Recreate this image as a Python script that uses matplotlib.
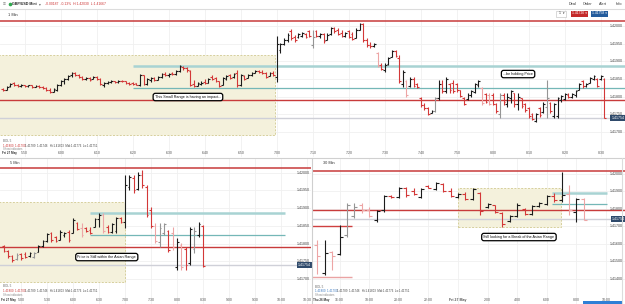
import matplotlib
matplotlib.use('Agg')
import matplotlib.pyplot as plt
import numpy as np
from matplotlib.lines import Line2D
from matplotlib.patches import Rectangle

plt.rcParams['font.family'] = ['Liberation Sans', 'DejaVu Sans']

W, H = 625, 304
BASE = 1.41700          # all prices below are pips above this

# levels drawn on every chart (pips above BASE)
top_red = 31.3
teal_upper = 18.7
teal_lower = 12.5
red_level = 9.0
asian_high = 21.7
asian_low = -0.8
last_price = 4.0
last_label = '1.41754'
teal_from, teal_to = 380, 605          # minutes after Fri 00:00
asian_from, asian_to = 0, 419.5

# ---- 1 Min chart (Fri 27 May, 05:44 .. 08:31)
m1_start = 344
m1_open = [12.3, 12.0, 13.0, 14.0, 13.4, 13.0, 13.2, 12.9, 13.2, 12.8, 13.1, 12.8, 12.5, 11.9, 11.4, 12.0, 13.3, 14.4, 15.0, 16.0,
           16.6, 16.1, 15.6, 15.0, 15.4, 15.0, 15.7, 15.0, 13.2, 13.9, 14.2, 14.4, 14.1, 14.5, 14.3, 13.8, 13.8, 13.8, 13.4, 16.0,
           13.6, 14.8, 15.3, 14.8, 15.6, 16.4, 16.0, 16.7, 16.3, 17.3, 18.5, 18.0, 17.4, 13.5, 13.1, 13.7, 14.2, 13.9, 15.6, 15.2,
           14.3, 13.3, 15.0, 16.0, 15.5, 16.8, 13.2, 15.8, 15.2, 16.0, 16.8, 17.2, 17.1, 16.7, 15.8, 16.8, 15.5, 23.2, 25.0, 26.0,
           28.5, 27.0, 26.8, 27.2, 27.8, 28.5, 24.5, 28.5, 27.2, 27.6, 26.0, 27.8, 29.4, 28.8, 28.0, 27.2, 28.6, 27.8, 26.6, 29.0,
           30.5, 26.0, 24.6, 24.3, 22.4, 19.0, 17.5, 19.2, 21.2, 23.0, 21.0, 13.5, 14.5, 13.0, 15.0, 13.7, 9.6, 7.5, 6.8, 5.5,
           6.0, 9.6, 13.5, 11.5, 13.5, 14.0, 13.5, 11.8, 9.6, 9.2, 10.4, 11.3, 13.2, 12.5, 10.8, 10.6, 10.5, 8.0, 5.0, 10.5,
           8.0, 9.5, 11.0, 8.0, 9.5, 7.8, 6.8, 5.0, 3.2, 6.8, 5.6, 7.0, 8.2, 4.5, 4.5, 9.0, 9.4, 10.5, 9.8, 10.4,
           12.0, 14.5, 13.0, 14.0, 15.0, 15.0, 15.0, 15.0]
m1_high = [12.5, 13.0, 13.9, 14.2, 13.6, 13.6, 13.3, 13.3, 13.3, 13.3, 13.3, 13.0, 12.7, 12.5, 12.5, 13.6, 14.7, 15.3, 16.1, 17.0,
           17.0, 16.4, 15.9, 15.6, 15.6, 15.9, 15.9, 15.3, 14.2, 14.4, 14.7, 14.4, 14.7, 14.7, 14.4, 14.2, 14.2, 13.9, 16.4, 16.1,
           15.3, 15.6, 15.6, 15.9, 16.7, 17.0, 16.7, 17.0, 17.5, 19.0, 18.7, 18.4, 17.5, 14.7, 14.2, 14.4, 15.0, 15.3, 16.1, 15.6,
           14.4, 15.6, 16.1, 16.4, 16.7, 17.5, 16.4, 16.1, 16.4, 17.0, 17.5, 17.5, 17.5, 17.0, 17.0, 17.2, 27.2, 25.2, 26.6, 28.0,
           29.2, 27.5, 28.0, 28.3, 28.0, 28.9, 28.9, 28.9, 28.0, 28.0, 28.0, 29.7, 29.7, 29.4, 28.9, 28.3, 28.9, 28.3, 29.4, 30.9,
           30.9, 26.6, 25.5, 25.2, 22.6, 19.5, 19.5, 21.2, 23.2, 23.2, 21.8, 17.5, 14.7, 15.6, 15.6, 13.9, 9.9, 8.2, 7.1, 6.2,
           9.9, 14.7, 14.7, 15.6, 13.9, 14.7, 13.9, 11.9, 9.9, 11.0, 11.9, 13.9, 14.7, 12.7, 11.0, 11.0, 11.0, 8.2, 11.0, 11.0,
           11.0, 11.9, 11.0, 11.0, 9.6, 8.2, 7.1, 5.4, 5.4, 7.1, 8.5, 14.7, 8.5, 8.2, 9.9, 10.5, 11.0, 11.0, 11.0, 11.9,
           13.9, 14.7, 13.9, 15.6, 16.1, 15.3, 16.1, 15.3]
m1_low = [11.6, 11.9, 12.7, 13.0, 12.7, 12.7, 12.7, 12.7, 12.5, 12.7, 12.5, 12.2, 11.6, 11.0, 11.3, 11.6, 13.0, 13.6, 14.7, 15.6,
          15.9, 15.3, 14.7, 14.7, 14.4, 15.0, 14.7, 13.3, 12.7, 13.6, 13.9, 13.9, 13.9, 14.2, 13.6, 13.3, 13.3, 13.3, 13.0, 13.3,
          13.3, 14.2, 14.4, 14.7, 15.3, 15.9, 15.6, 16.1, 16.1, 17.0, 17.5, 17.0, 13.0, 12.7, 13.0, 13.3, 13.6, 13.9, 14.7, 14.2,
          12.7, 13.3, 14.7, 15.0, 15.3, 12.7, 13.0, 14.7, 15.2, 15.9, 16.7, 16.7, 16.4, 15.3, 15.8, 15.9, 14.2, 22.4, 24.6, 25.5,
          26.0, 25.5, 26.6, 26.9, 26.6, 26.9, 23.8, 26.9, 26.6, 25.2, 26.0, 27.5, 28.0, 27.5, 26.9, 26.9, 26.6, 26.0, 26.5, 28.9,
          25.5, 24.1, 23.8, 24.1, 18.4, 17.5, 17.0, 19.0, 21.2, 21.2, 13.9, 12.7, 9.9, 12.7, 12.7, 12.5, 7.1, 6.2, 4.8, 5.4,
          5.7, 9.1, 11.0, 11.0, 11.0, 11.0, 11.3, 9.9, 7.6, 9.1, 9.9, 11.0, 12.7, 7.6, 8.2, 7.6, 7.6, 5.4, 4.0, 7.6,
          7.1, 8.2, 7.1, 6.2, 6.8, 5.7, 4.0, 3.4, 2.8, 4.2, 5.4, 4.0, 5.4, 4.0, 4.0, 8.5, 9.1, 9.6, 9.6, 9.9,
          11.9, 12.5, 12.7, 13.9, 14.7, 12.7, 14.7, 4.0]
m1_close = [11.8, 12.8, 13.6, 13.2, 13.0, 13.4, 12.9, 13.2, 12.7, 13.1, 12.6, 12.4, 11.9, 11.3, 12.2, 13.4, 14.5, 15.0, 15.9, 16.7,
            16.0, 15.5, 15.0, 15.4, 14.8, 15.7, 14.9, 13.5, 13.9, 14.2, 14.4, 14.1, 14.5, 14.3, 13.8, 13.5, 13.5, 13.4, 16.1, 13.6,
            15.0, 15.3, 14.8, 15.6, 16.4, 16.0, 16.5, 16.3, 17.3, 18.7, 18.0, 17.5, 13.3, 13.0, 13.9, 14.0, 13.8, 15.0, 15.0, 14.5,
            13.0, 15.3, 15.8, 15.3, 16.4, 13.2, 16.0, 15.0, 16.0, 16.8, 17.2, 17.0, 16.7, 15.6, 16.8, 16.2, 25.0, 24.9, 26.0, 27.5,
            26.6, 26.0, 27.6, 28.0, 27.0, 27.3, 27.0, 27.2, 27.8, 25.8, 27.5, 29.4, 28.5, 27.8, 27.2, 28.0, 27.0, 26.4, 29.0, 30.6,
            26.0, 24.6, 24.2, 24.8, 18.8, 17.8, 19.0, 20.8, 22.8, 21.6, 14.5, 17.0, 10.5, 15.0, 13.0, 12.8, 7.5, 6.8, 5.2, 6.0,
            9.6, 13.5, 11.5, 15.0, 12.0, 11.5, 11.8, 10.2, 8.0, 10.6, 11.5, 13.5, 14.4, 8.2, 8.5, 8.0, 8.0, 5.8, 10.5, 8.5,
            10.0, 11.5, 8.0, 10.0, 7.4, 6.2, 4.5, 3.8, 5.0, 4.8, 8.0, 9.5, 5.8, 7.8, 9.5, 10.2, 10.8, 10.0, 10.8, 11.6,
            13.6, 13.0, 13.6, 15.3, 15.9, 13.0, 15.9, 4.0]
m1_light = [86, 104, 112, 120, 133, 135, 138, 151]
m1_ticks = [350, 360, 370, 380, 390, 400, 410, 420, 430, 440, 450, 460, 470, 480, 490, 500, 510]
m1_prices = [30, 25, 20, 15, 10, 5, 0]

# ---- 5 Min chart (04:40 .. 08:30)
m5_start = 280
m5_open = [9.3, 8.0, 6.5, 5.6, 7.0, 7.2, 6.4, 6.2, 7.6, 9.3, 10.7, 13.0, 11.8, 11.0, 12.4, 13.3, 13.0, 15.8, 14.5, 14.4,
           13.8, 14.7, 16.9, 18.0, 14.7, 13.3, 13.5, 17.2, 16.0, 26.0, 28.5, 25.4, 29.5, 26.0, 19.5, 15.0, 10.5, 13.0, 13.5, 13.0,
           3.5, 9.5, 8.5, 4.5, 8.5, 12.5, 15.0]
m5_high = [9.6, 8.2, 6.8, 7.3, 7.3, 7.6, 7.6, 7.6, 9.6, 11.0, 13.0, 13.3, 12.1, 13.8, 13.3, 13.8, 17.2, 16.1, 15.8, 14.7,
           14.7, 17.2, 18.6, 18.6, 15.3, 15.8, 17.5, 17.5, 29.4, 29.4, 29.4, 30.2, 30.8, 26.6, 20.3, 15.8, 15.8, 15.8, 13.8, 14.7,
           11.6, 10.2, 9.0, 14.7, 14.7, 16.1, 15.3]
m5_low = [7.6, 5.9, 4.8, 5.4, 5.4, 5.9, 6.2, 5.9, 7.6, 9.0, 10.5, 10.5, 10.5, 10.9, 11.9, 10.5, 13.0, 13.8, 11.9, 13.3,
          12.7, 14.7, 14.7, 13.0, 13.0, 13.0, 13.0, 15.8, 14.4, 25.1, 24.3, 25.1, 25.7, 17.5, 14.4, 10.2, 9.0, 12.4, 7.6, 8.2,
          2.5, 2.5, 2.5, 4.0, 7.3, 11.9, 3.4]
m5_close = [8.0, 6.5, 5.3, 6.8, 5.8, 6.2, 7.3, 7.4, 9.4, 10.7, 12.6, 10.9, 10.8, 13.3, 13.1, 10.9, 16.7, 14.1, 12.4, 13.6,
            13.1, 16.9, 18.1, 13.5, 13.3, 15.5, 17.2, 16.1, 26.6, 28.8, 25.0, 29.5, 26.6, 18.0, 15.0, 10.8, 14.5, 15.5, 8.2, 9.0,
            10.5, 3.5, 4.0, 14.0, 13.5, 15.5, 3.6]
m5_light = [3, 7, 18, 23, 35, 36, 37, 39, 41, 44]
m5_ticks = [300, 330, 360, 390, 420, 450, 480, 510, 540, 570, 600, 630]
m5_prices = [30, 25, 20, 15, 10, 5, 0]

# ---- 30 Min chart (Thu 26 May 14:30 .. Fri 27 May 08:30), minutes from Fri 00:00
m30_start = -570
m30_open = [-11.0, -26.9, -15.0, -16.0, -5.0, 6.0, 12.0, 9.0, 3.5, 9.0, 17.4, 16.6, 21.7, 20.0, 16.6, 23.0, 21.0, 24.0, 20.0, 16.6,
            18.3, 15.4, 19.0, 10.9, 12.0, 7.4, 3.0, 5.7, 9.7, 7.0, 11.5, 12.6, 17.1, 15.0, 18.3, 8.0, 15.3]
m30_high = [-8.0, -8.0, -14.5, 0.6, 13.1, 13.1, 13.1, 10.9, 9.1, 17.7, 17.7, 22.3, 22.3, 21.7, 21.7, 23.4, 25.1, 24.6, 21.7, 18.9,
            19.4, 21.7, 19.4, 13.1, 12.0, 8.0, 6.3, 13.1, 10.3, 12.0, 13.7, 17.7, 18.9, 31.0, 23.4, 16.0, 16.0]
m30_low = [-27.4, -28.0, -25.1, -16.6, -6.3, 4.6, 7.4, 5.1, 2.3, 8.0, 16.0, 16.0, 16.6, 17.7, 16.0, 21.7, 20.6, 19.4, 16.6, 16.0,
           14.9, 14.9, 6.3, 10.3, 7.4, -0.6, 2.3, 5.1, 6.3, 6.3, 10.9, 12.0, 13.7, 13.7, 6.3, 2.3, 3.4]
m30_close = [-17.0, -15.4, -17.0, -6.3, 12.0, 11.0, 9.0, 6.0, 8.5, 17.1, 16.6, 21.7, 17.7, 18.3, 21.0, 22.0, 24.6, 20.0, 17.1, 18.3,
             15.4, 21.0, 8.5, 12.6, 8.0, 1.0, 5.5, 12.0, 7.0, 11.5, 13.1, 17.1, 14.9, 18.0, 9.0, 15.3, 3.7]
m30_light = [0, 2, 4, 5, 6, 7, 34, 36]
m30_ticks = [-480, -360, -240, -120, 0, 120, 240, 360, 480, 600]
m30_tick_labels = ['16:00', '18:00', '20:00', '22:00', 'Fri 27 May', '2:00', '4:00', '6:00', '8:00', '10:00']
m30_prices = [30, 20, 10, 0, -10, -20, -30]
thu_lines = [0.0, -29.1]               # short lines drawn on Thursday afternoon
thu_from, thu_to = -590, -430


def hhmm(m):
    return '%d:%02d' % (m // 60, m % 60)


def price_txt(q):
    return '%.5f' % (BASE + q / 10000)


fig = plt.figure(figsize=(W / 100, H / 100), dpi=100)
fig.patch.set_facecolor('white')


def px_axes(x0, y0, x1, y1):
    ax = fig.add_axes([x0 / W, 1 - y1 / H, (x1 - x0) / W, (y1 - y0) / H])
    ax.axis('off')
    return ax


def fig_line(x0, y0, x1, y1, color='#dcdcdc', lw=0.8):
    fig.add_artist(Line2D([x0 / W, x1 / W], [1 - y0 / H, 1 - y1 / H], transform=fig.transFigure,
                          color=color, lw=lw))


def ohlc(ax, times, o, h, l, c, light, tick):
    for i in range(len(o)):
        up = c[i] >= o[i]
        if i in light:
            col = '#959595' if up else '#eda5a5'
        else:
            col = '#1c1c1c' if up else '#d33838'
        ax.vlines(times[i], l[i], h[i], color=col, lw=0.8, zorder=4)
        ax.hlines(o[i], times[i] - tick, times[i], color=col, lw=0.8, zorder=4)
        ax.hlines(c[i], times[i], times[i] + tick, color=col, lw=0.8, zorder=4)


def decorate(ax, xlim, ticks, tick_labels, prices, label_x, box_x, first_label=None):
    for t in ticks:
        ax.axvline(t, color='#f0f0f0', lw=0.6, zorder=0)
    for q in prices:
        ax.axhline(q, color='#f0f0f0', lw=0.6, zorder=0)
        ax.text(label_x, q, price_txt(q), transform=ax.get_yaxis_transform(), ha='right', va='center',
                fontsize=2.6, color='#444444', zorder=6)
    for t, s in zip(ticks, tick_labels):
        ax.text(t, 0.027, s, transform=ax.get_xaxis_transform(), ha='center', va='center', fontsize=2.5,
                color='#555555', fontweight='bold' if 'May' in s else 'normal')
    if first_label:
        ax.text(0.004, 0.027, first_label, transform=ax.transAxes, ha='left', va='center', fontsize=2.2,
                color='#333333', fontweight='bold')
    # asian range box
    ax.add_patch(Rectangle((asian_from, asian_low), asian_to - asian_from, asian_high - asian_low,
                           facecolor='#f4f1dc', edgecolor='#d6cf9c', lw=0.7, ls=(0, (2, 1.5)), zorder=1))
    ax.axhline(top_red, color='#c83b3b', lw=1.1, zorder=3)
    ax.axhline(red_level, color='#c83b3b', lw=1.0, zorder=3)
    ax.axhline(last_price, color='#cfd0d8', lw=1.0, zorder=2)
    ax.hlines(teal_upper, teal_from, teal_to, color='#a8d3d3', lw=1.8, zorder=3)
    ax.hlines(teal_lower, teal_from, teal_to, color='#74b7b7', lw=0.9, zorder=3)
    ax.text(box_x, last_price, last_label, transform=ax.get_yaxis_transform(), ha='right', va='center',
            fontsize=2.6, color='white', zorder=7,
            bbox=dict(boxstyle='square,pad=0.25', facecolor='#2f4a6b', edgecolor='none'))
    ax.set_xlim(xlim)


def note(ax, x, y, s):
    ax.text(x, y, s, ha='center', va='center', fontsize=2.7, color='#111111', zorder=8,
            bbox=dict(boxstyle='round,pad=0.45,rounding_size=0.6', facecolor='white', edgecolor='black', lw=0.9))


# ---------- top: 1 Min
ax1 = px_axes(0, 9, 625, 157)
ax1.set_ylim(-7.08, 34.81)
decorate(ax1, (343.1, 516.7), m1_ticks, [hhmm(t) for t in m1_ticks], m1_prices, 0.997, 0.999, 'Fri 27 May')
ohlc(ax1, np.arange(m1_start, m1_start + len(m1_open)), m1_open, m1_high, m1_low, m1_close, m1_light, 0.5)
note(ax1, 395.3, 9.9, 'This Small Range is having an impact...')
note(ax1, 487, 16.4, '...be holding Price')

# ---------- bottom left: 5 Min
ax2 = px_axes(0, 158, 311, 304)
ax2.set_ylim(-7.06, 34.18)
decorate(ax2, (275.8, 634.6), m5_ticks, [hhmm(t) for t in m5_ticks], m5_prices, 0.997, 0.999, 'Fri 27 May')
ohlc(ax2, np.arange(m5_start, m5_start + 5 * len(m5_open), 5), m5_open, m5_high, m5_low, m5_close, m5_light, 2.0)
note(ax2, 399, 6.2, 'Price is Still within the Asian Range')

# ---------- bottom right: 30 Min
ax3 = px_axes(312, 158, 625, 304)
ax3.set_ylim(-44.57, 38.86)
decorate(ax3, (-591.9, 677.0), m30_ticks, m30_tick_labels, m30_prices, 0.994, 0.999, 'Thu 26 May')
ax3.hlines(thu_lines[0], thu_from, thu_to, color='#cf4040', lw=1.0, zorder=3)
ax3.hlines(thu_lines[1], thu_from, thu_to, color='#eaa3a3', lw=1.0, zorder=3)
ohlc(ax3, np.arange(m30_start, m30_start + 30 * len(m30_open), 30), m30_open, m30_high, m30_low, m30_close,
     m30_light, 12)
note(ax3, 247, -6.3, 'Still looking for a Break of the Asian Range')

# ---------- frame lines
fig_line(0, 8.5, 625, 8.5)
fig_line(0, 157.5, 625, 157.5, color='#d0d0d0')
fig_line(311.5, 157.5, 311.5, 304, color='#cfcfcf')
fig_line(622, 157.5, 622, 304, color='#dcdcdc')

# ---------- header / panel titles
fs = 2.8
fig.text(3 / W, 1 - 4 / H, '\u2261', fontsize=3.5, color='#777777', va='center')
fig.add_artist(Line2D([9.5 / W], [1 - 4 / H], marker='o', ms=1.6, color='#2fa84f', transform=fig.transFigure))
fig.text(12 / W, 1 - 4 / H, 'GBP/USD Mini', fontsize=2.6, fontweight='bold', color='#222222', va='center')
fig.text(39 / W, 1 - 4 / H, '\u25be', fontsize=2.6, color='#666666', va='center')
fig.text(45 / W, 1 - 4 / H, '-0.00187  -0.13%  H:1.42030  L:1.41667', fontsize=2.4, color='#cc3333', va='center')
for x, s in [(573, 'Deal'), (588, 'Order'), (603, 'Alert'), (619, 'Info')]:
    fig.text(x / W, 1 - 4 / H, s, fontsize=fs, color='#333333', ha='center', va='center')
fig.text(561 / W, 1 - 13.5 / H, '  1  \u25be', fontsize=2.4, color='#333333', ha='center', va='center',
         bbox=dict(boxstyle='square,pad=0.3', facecolor='white', edgecolor='#bbbbbb', lw=0.4))
fig.text(579 / W, 1 - 13.5 / H, '1.41726 \u25be', fontsize=2.4, color='white', ha='center', va='center',
         bbox=dict(boxstyle='square,pad=0.3', facecolor='#c42a2a', edgecolor='none'))
fig.text(599 / W, 1 - 13.5 / H, '1.41758 \u25be', fontsize=2.4, color='white', ha='center', va='center',
         bbox=dict(boxstyle='square,pad=0.3', facecolor='#245c9c', edgecolor='none'))

fig.text(8 / W, 1 - 15 / H, '1 Min', fontsize=fs, color='#333333', va='center')
fig.text(10 / W, 1 - 163 / H, '5 Min', fontsize=fs, color='#333333', va='center')
fig.text(323 / W, 1 - 163 / H, '30 Min', fontsize=fs, color='#333333', va='center')

# indicator legend rows
for x0, y0, col in [(3, 141, '#cc3333'), (3, 286, '#cc3333'), (315, 287, '#3a78c0')]:
    fig.text(x0 / W, 1 - y0 / H, 'BOL 5', fontsize=2.2, color='#666666', va='center')
    fig.text(x0 / W, 1 - (y0 + 4.5) / H, '1.41800  1.41700', fontsize=2.1, color=col, va='center')
    fig.text((x0 + 22) / W, 1 - (y0 + 4.5) / H, '1.41789  1.41746   Hi:1.41803  Mid:1.41776  Lo:1.41751',
             fontsize=2.1, color='#444444', va='center')
    fig.text(x0 / W, 1 - (y0 + 8.5) / H, 'Show indicators', fontsize=2.0, color='#888888', va='center')

fig.add_artist(Rectangle((583 / W, 0), 40 / W, 3 / H, transform=fig.transFigure, facecolor='#2f7fd6',
                         edgecolor='none'))

fig.savefig('out.png', dpi=100)
